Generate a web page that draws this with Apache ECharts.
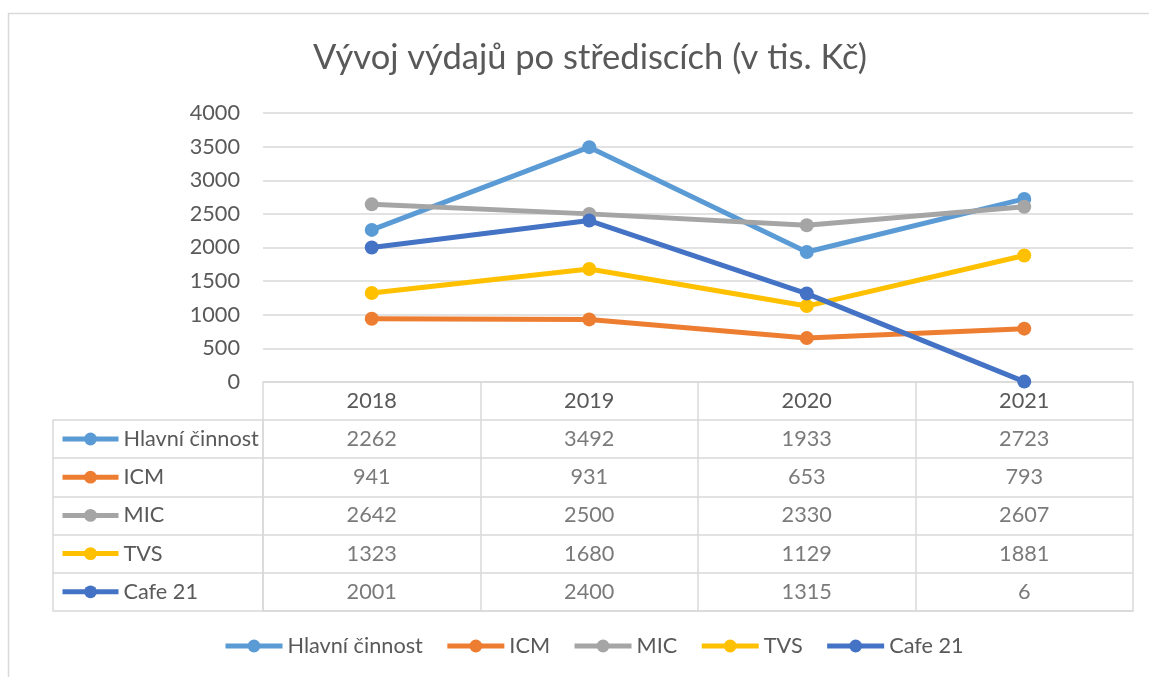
<!DOCTYPE html>
<html>
<head>
<meta charset="utf-8">
<script src="https://cdn.jsdelivr.net/npm/echarts@6/dist/echarts.min.js"></script>
<style>
html,body{margin:0;padding:0;background:#fff;}
#chart{width:1149px;height:677px;}
</style>
</head>
<body>
<div id="chart"></div>
<script>
const years = ['2018', '2019', '2020', '2021'];
const seriesNames = ['Hlavní činnost', 'ICM', 'MIC', 'TVS', 'Cafe 21'];
const hlavniCinnost = [2262, 3492, 1933, 2723];
const icm = [941, 931, 653, 793];
const mic = [2642, 2500, 2330, 2607];
const tvs = [1323, 1680, 1129, 1881];
const cafe21 = [2001, 2400, 1315, 6];
const colors = ['#5B9BD5', '#ED7D31', '#A5A5A5', '#FFC000', '#4472C4'];
const titleText = 'Vývoj výdajů po střediscích (v tis. Kč)';

const allValues = [hlavniCinnost, icm, mic, tvs, cafe21];
const FONT = 'Lato, "Noto Sans", sans-serif';
const FS = 21.7;
const TXT = '#595959';
const GRIDC = '#d9d9d9';

const tableData = [];
allValues.forEach((arr, r) => arr.forEach((v, c) => tableData.push([c, r, v])));

const lineSeries = seriesNames.map((name, i) => ({
  name: name,
  type: 'line',
  xAxisIndex: 0,
  yAxisIndex: 0,
  data: allValues[i],
  symbol: 'circle',
  symbolSize: 14,
  lineStyle: { width: 5, color: colors[i] },
  itemStyle: { color: colors[i] },
  emphasis: { disabled: true },
  z: 2 + i
}));

const chart = echarts.init(document.getElementById('chart'), null, { renderer: 'canvas' });
chart.setOption({
  animation: false,
  color: colors,
  textStyle: { fontFamily: FONT },
  title: {
    text: titleText,
    left: 585,
    textAlign: 'center',
    top: 35,
    textStyle: { fontFamily: FONT, fontSize: 34.5, fontWeight: 'normal', color: TXT }
  },
  graphic: [{
    type: 'rect',
    silent: true,
    shape: { x: 8.5, y: 13.5, width: 1400, height: 900 },
    style: { fill: 'none', stroke: GRIDC, lineWidth: 1.5 }
  }],
  legend: [{
    data: seriesNames,
    orient: 'horizontal',
    left: 223,
    top: 635,
    padding: 0,
    itemWidth: 57,
    itemHeight: 16,
    itemGap: 22,
    lineStyle: { width: 5 },
    textStyle: { fontFamily: FONT, fontSize: FS, lineHeight: 22, color: TXT }
  }, {
    data: seriesNames,
    orient: 'vertical',
    left: 60,
    top: 428,
    padding: 0,
    itemWidth: 56,
    itemHeight: 16,
    itemGap: 16.2,
    selectedMode: false,
    lineStyle: { width: 5 },
    textStyle: { fontFamily: FONT, fontSize: FS, lineHeight: 22, color: TXT }
  }],
  grid: [
    { left: 263, top: 113, width: 870, height: 269 },
    { left: 263, top: 420, width: 870, height: 191 }
  ],
  xAxis: [{
    gridIndex: 0,
    type: 'category',
    data: years,
    boundaryGap: true,
    axisLine: { show: true, lineStyle: { color: GRIDC, width: 1.5 } },
    axisTick: { show: true, interval: 0, length: 38, lineStyle: { color: GRIDC, width: 1.5 } },
    axisLabel: { margin: 8, fontFamily: FONT, fontSize: FS, color: TXT },
    splitLine: { show: false }
  }, {
    gridIndex: 1,
    type: 'category',
    data: years,
    boundaryGap: true,
    axisLine: { show: true, lineStyle: { color: GRIDC, width: 1.5 } },
    axisTick: { show: false },
    axisLabel: { show: false },
    splitLine: { show: true, interval: 0, lineStyle: { color: GRIDC, width: 1.5 } }
  }],
  yAxis: [{
    gridIndex: 0,
    type: 'value',
    min: 0,
    max: 4000,
    interval: 500,
    axisLine: { show: false },
    axisTick: { show: false },
    axisLabel: { margin: 23, fontFamily: FONT, fontSize: FS, color: TXT, formatter: v => String(v) },
    splitLine: { show: true, lineStyle: { color: GRIDC, width: 1.5 } }
  }, {
    gridIndex: 1,
    type: 'category',
    data: seriesNames,
    inverse: true,
    boundaryGap: true,
    axisLine: { show: true, lineStyle: { color: GRIDC, width: 1.5 } },
    axisTick: { show: true, interval: 0, length: 210, lineStyle: { color: GRIDC, width: 1.5 } },
    axisLabel: { show: false },
    splitLine: { show: true, interval: 0, lineStyle: { color: GRIDC, width: 1.5 } }
  }, {
    gridIndex: 1,
    type: 'category',
    data: seriesNames,
    position: 'left',
    offset: 210,
    axisLine: { show: true, lineStyle: { color: GRIDC, width: 1.5 } },
    axisTick: { show: false },
    axisLabel: { show: false },
    splitLine: { show: false }
  }],
  series: lineSeries.concat([{
    name: 'table',
    type: 'scatter',
    xAxisIndex: 1,
    yAxisIndex: 1,
    data: tableData,
    symbolSize: 2,
    itemStyle: { color: 'rgba(0,0,0,0)' },
    silent: true,
    z: 10,
    label: {
      show: true,
      position: 'inside',
      formatter: p => String(p.value[2]),
      fontFamily: FONT,
      fontSize: FS,
      color: TXT
    }
  }])
});
</script>
</body>
</html>
